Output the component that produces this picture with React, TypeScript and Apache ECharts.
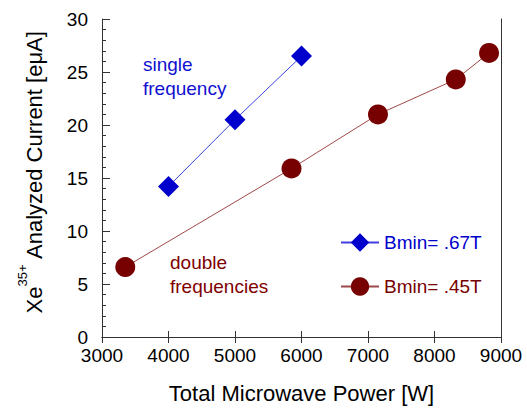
import React, { useEffect, useRef } from "react";
import * as echarts from "echarts";

const xTicks = [3000, 4000, 5000, 6000, 7000, 8000, 9000];
const singlePower = [4000, 5000, 6000];
const singleCurrent = [14.2, 20.5, 26.5];
const doublePower = [3350, 5850, 7150, 8320, 8820];
const doubleCurrent = [6.6, 15.9, 21.0, 24.3, 26.8];
const seriesNames = ["Bmin= .67T", "Bmin= .45T"];

const FONT = "'Liberation Sans', Arial, sans-serif";
const BLUE = "#0000CC";
const BLUE_LINE = "#4040E0";
const RED = "#770000";
const RED_LINE = "#A04848";

export default function App() {
  const ref = useRef<HTMLDivElement>(null);
  useEffect(() => {
    const chart = echarts.init(ref.current!, null, { renderer: "svg" });
    const axisLine = { show: true, lineStyle: { color: "#333", width: 1 } };
    chart.setOption({
      animation: false,
      backgroundColor: "#fff",
      textStyle: { fontFamily: FONT },
      grid: { left: 102, top: 19, width: 399, height: 319, containLabel: false },
      legend: {
        orient: "vertical",
        left: 335,
        top: 228,
        itemWidth: 38,
        itemHeight: 23,
        itemGap: 25,
        textStyle: { fontSize: 19, fontFamily: FONT },
        data: [
          { name: seriesNames[0], textStyle: { color: BLUE } },
          { name: seriesNames[1], textStyle: { color: RED } },
        ],
      },
      xAxis: [
        {
          type: "value",
          min: xTicks[0],
          max: xTicks[xTicks.length - 1],
          interval: 1000,
          position: "bottom",
          axisLine,
          axisTick: { show: true, inside: true, length: 6, lineStyle: { color: "#333" } },
          axisLabel: {
            fontSize: 19,
            color: "#000",
            margin: 9,
            fontFamily: FONT,
            formatter: (v: number) => String(v),
          },
          splitLine: { show: false },
          name: "Total Microwave Power [W]",
          nameLocation: "middle",
          nameGap: 45,
          nameTextStyle: { fontSize: 22, color: "#000", fontFamily: FONT },
        },
        {
          type: "value",
          min: xTicks[0],
          max: xTicks[xTicks.length - 1],
          interval: 1000,
          position: "top",
          axisLine,
          axisTick: { show: true, inside: true, length: 6, lineStyle: { color: "#333" } },
          axisLabel: { show: false },
          splitLine: { show: false },
        },
      ],
      yAxis: [
        {
          type: "value",
          min: 0,
          max: 30,
          interval: 5,
          position: "left",
          axisLine,
          axisTick: { show: true, inside: true, length: 8, lineStyle: { color: "#333" } },
          minorTick: { show: true, splitNumber: 5, length: 4, lineStyle: { color: "#333" } },
          axisLabel: { fontSize: 19, color: "#000", margin: 14, fontFamily: FONT },
          splitLine: { show: false },
          minorSplitLine: { show: false },
        },
        {
          type: "value",
          min: 0,
          max: 30,
          interval: 5,
          position: "right",
          axisLine,
          axisTick: { show: false },
          axisLabel: { show: false },
          splitLine: { show: false },
        },
      ],
      series: [
        {
          name: seriesNames[0],
          type: "line",
          data: singlePower.map((x, i) => [x, singleCurrent[i]]),
          symbol: "diamond",
          symbolSize: 21,
          itemStyle: { color: BLUE },
          lineStyle: { color: BLUE_LINE, width: 1 },
        },
        {
          name: seriesNames[1],
          type: "line",
          data: doublePower.map((x, i) => [x, doubleCurrent[i]]),
          symbol: "circle",
          symbolSize: 20,
          itemStyle: { color: RED },
          lineStyle: { color: RED_LINE, width: 1 },
        },
      ],
      graphic: [
        {
          type: "text",
          x: 34,
          y: 172,
          rotation: Math.PI / 2,
          style: {
            text: "{a|Xe}{s|35+}{a| Analyzed Current [eμA]}",
            align: "center",
            verticalAlign: "middle",
            fill: "#000",
            rich: {
              a: { fontSize: 22, lineHeight: 36, fontFamily: FONT, fill: "#000" },
              s: { fontSize: 13, lineHeight: 6, verticalAlign: "top", fontFamily: FONT, fill: "#000" },
            },
          },
        },
        {
          type: "text",
          x: 143,
          y: 76,
          style: {
            text: "single\nfrequency",
            fontSize: 19,
            lineHeight: 24,
            fontFamily: FONT,
            fill: "#1010D0",
            align: "left",
            verticalAlign: "middle",
          },
        },
        {
          type: "text",
          x: 170,
          y: 274,
          style: {
            text: "double\nfrequencies",
            fontSize: 19,
            lineHeight: 24,
            fontFamily: FONT,
            fill: "#800000",
            align: "left",
            verticalAlign: "middle",
          },
        },
      ],
    });
    return () => chart.dispose();
  }, []);
  return (
    <div
      ref={ref}
      style={{ position: "absolute", left: 0, top: 0, width: 527, height: 409 }}
    />
  );
}
